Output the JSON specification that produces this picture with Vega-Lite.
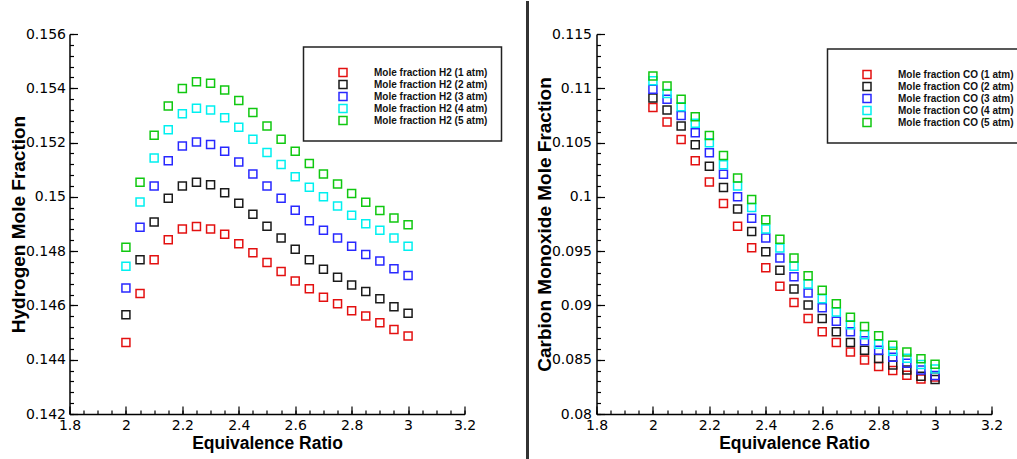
{
  "$schema": "https://vega.github.io/schema/vega-lite/v6.json",
  "autosize": "pad",
  "padding": {"left": 8.5, "top": 0, "right": 0, "bottom": 0},
  "background": "white",
  "bounds": "flush",
  "spacing": 132,
  "resolve": {"scale": {"x": "independent", "y": "independent", "color": "independent"}, "legend": {"color": "independent"}},
  "config": {
    "view": {"stroke": null},
    "axis": {"grid": false, "domainColor": "#000", "tickColor": "#000", "labelColor": "#000", "titleColor": "#000", "labelFont": "DejaVu Sans", "titleFont": "Liberation Sans"},
    "legend": {"strokeWidth": 1.5}
  },
  "datasets": {
    "h2": [
      {"x":2,"a":"1 atm","y":0.14463},{"x":2.05,"a":"1 atm","y":0.14644},{"x":2.1,"a":"1 atm","y":0.14768},{"x":2.15,"a":"1 atm","y":0.14842},{"x":2.2,"a":"1 atm","y":0.14882},{"x":2.25,"a":"1 atm","y":0.14891},{"x":2.3,"a":"1 atm","y":0.14882},{"x":2.35,"a":"1 atm","y":0.14862},{"x":2.4,"a":"1 atm","y":0.14827},{"x":2.45,"a":"1 atm","y":0.14794},{"x":2.5,"a":"1 atm","y":0.14758},{"x":2.55,"a":"1 atm","y":0.14725},{"x":2.6,"a":"1 atm","y":0.1469},{"x":2.65,"a":"1 atm","y":0.14661},{"x":2.7,"a":"1 atm","y":0.1463},{"x":2.75,"a":"1 atm","y":0.14606},{"x":2.8,"a":"1 atm","y":0.1458},{"x":2.85,"a":"1 atm","y":0.14561},{"x":2.9,"a":"1 atm","y":0.14536},{"x":2.95,"a":"1 atm","y":0.14511},{"x":3,"a":"1 atm","y":0.14487},
      {"x":2,"a":"2 atm","y":0.14566},{"x":2.05,"a":"2 atm","y":0.14768},{"x":2.1,"a":"2 atm","y":0.14907},{"x":2.15,"a":"2 atm","y":0.14995},{"x":2.2,"a":"2 atm","y":0.1504},{"x":2.25,"a":"2 atm","y":0.15054},{"x":2.3,"a":"2 atm","y":0.15045},{"x":2.35,"a":"2 atm","y":0.15015},{"x":2.4,"a":"2 atm","y":0.14976},{"x":2.45,"a":"2 atm","y":0.14936},{"x":2.5,"a":"2 atm","y":0.14892},{"x":2.55,"a":"2 atm","y":0.14848},{"x":2.6,"a":"2 atm","y":0.14807},{"x":2.65,"a":"2 atm","y":0.14768},{"x":2.7,"a":"2 atm","y":0.14733},{"x":2.75,"a":"2 atm","y":0.14704},{"x":2.8,"a":"2 atm","y":0.14675},{"x":2.85,"a":"2 atm","y":0.14651},{"x":2.9,"a":"2 atm","y":0.14625},{"x":2.95,"a":"2 atm","y":0.14595},{"x":3,"a":"2 atm","y":0.14571},
      {"x":2,"a":"3 atm","y":0.14664},{"x":2.05,"a":"3 atm","y":0.14888},{"x":2.1,"a":"3 atm","y":0.1504},{"x":2.15,"a":"3 atm","y":0.15133},{"x":2.2,"a":"3 atm","y":0.15187},{"x":2.25,"a":"3 atm","y":0.15202},{"x":2.3,"a":"3 atm","y":0.15193},{"x":2.35,"a":"3 atm","y":0.15168},{"x":2.4,"a":"3 atm","y":0.15128},{"x":2.45,"a":"3 atm","y":0.15084},{"x":2.5,"a":"3 atm","y":0.1504},{"x":2.55,"a":"3 atm","y":0.14995},{"x":2.6,"a":"3 atm","y":0.14951},{"x":2.65,"a":"3 atm","y":0.14912},{"x":2.7,"a":"3 atm","y":0.14877},{"x":2.75,"a":"3 atm","y":0.14848},{"x":2.8,"a":"3 atm","y":0.14818},{"x":2.85,"a":"3 atm","y":0.14788},{"x":2.9,"a":"3 atm","y":0.14764},{"x":2.95,"a":"3 atm","y":0.14735},{"x":3,"a":"3 atm","y":0.1471},
      {"x":2,"a":"4 atm","y":0.14744},{"x":2.05,"a":"4 atm","y":0.14981},{"x":2.1,"a":"4 atm","y":0.15143},{"x":2.15,"a":"4 atm","y":0.15247},{"x":2.2,"a":"4 atm","y":0.15306},{"x":2.25,"a":"4 atm","y":0.15326},{"x":2.3,"a":"4 atm","y":0.1532},{"x":2.35,"a":"4 atm","y":0.15291},{"x":2.4,"a":"4 atm","y":0.15256},{"x":2.45,"a":"4 atm","y":0.15212},{"x":2.5,"a":"4 atm","y":0.15163},{"x":2.55,"a":"4 atm","y":0.15119},{"x":2.6,"a":"4 atm","y":0.15074},{"x":2.65,"a":"4 atm","y":0.15035},{"x":2.7,"a":"4 atm","y":0.15},{"x":2.75,"a":"4 atm","y":0.14966},{"x":2.8,"a":"4 atm","y":0.14932},{"x":2.85,"a":"4 atm","y":0.14901},{"x":2.9,"a":"4 atm","y":0.14877},{"x":2.95,"a":"4 atm","y":0.14848},{"x":3,"a":"4 atm","y":0.14818},
      {"x":2,"a":"5 atm","y":0.14814},{"x":2.05,"a":"5 atm","y":0.15054},{"x":2.1,"a":"5 atm","y":0.15227},{"x":2.15,"a":"5 atm","y":0.15335},{"x":2.2,"a":"5 atm","y":0.15399},{"x":2.25,"a":"5 atm","y":0.15424},{"x":2.3,"a":"5 atm","y":0.15419},{"x":2.35,"a":"5 atm","y":0.15394},{"x":2.4,"a":"5 atm","y":0.15355},{"x":2.45,"a":"5 atm","y":0.15311},{"x":2.5,"a":"5 atm","y":0.15261},{"x":2.55,"a":"5 atm","y":0.15212},{"x":2.6,"a":"5 atm","y":0.15168},{"x":2.65,"a":"5 atm","y":0.15123},{"x":2.7,"a":"5 atm","y":0.15084},{"x":2.75,"a":"5 atm","y":0.15047},{"x":2.8,"a":"5 atm","y":0.15012},{"x":2.85,"a":"5 atm","y":0.1498},{"x":2.9,"a":"5 atm","y":0.1495},{"x":2.95,"a":"5 atm","y":0.14922},{"x":3,"a":"5 atm","y":0.14897}
    ],
    "co": [
      {"x":2,"a":"1 atm","y":0.10824},{"x":2.05,"a":"1 atm","y":0.10689},{"x":2.1,"a":"1 atm","y":0.10529},{"x":2.15,"a":"1 atm","y":0.10332},{"x":2.2,"a":"1 atm","y":0.10136},{"x":2.25,"a":"1 atm","y":0.09938},{"x":2.3,"a":"1 atm","y":0.0973},{"x":2.35,"a":"1 atm","y":0.09532},{"x":2.4,"a":"1 atm","y":0.09347},{"x":2.45,"a":"1 atm","y":0.09176},{"x":2.5,"a":"1 atm","y":0.09028},{"x":2.55,"a":"1 atm","y":0.0888},{"x":2.6,"a":"1 atm","y":0.08757},{"x":2.65,"a":"1 atm","y":0.08659},{"x":2.7,"a":"1 atm","y":0.08572},{"x":2.75,"a":"1 atm","y":0.08498},{"x":2.8,"a":"1 atm","y":0.08437},{"x":2.85,"a":"1 atm","y":0.084},{"x":2.9,"a":"1 atm","y":0.08357},{"x":2.95,"a":"1 atm","y":0.08323},{"x":3,"a":"1 atm","y":0.08341},
      {"x":2,"a":"2 atm","y":0.10911},{"x":2.05,"a":"2 atm","y":0.108},{"x":2.1,"a":"2 atm","y":0.10653},{"x":2.15,"a":"2 atm","y":0.1048},{"x":2.2,"a":"2 atm","y":0.10283},{"x":2.25,"a":"2 atm","y":0.10086},{"x":2.3,"a":"2 atm","y":0.09889},{"x":2.35,"a":"2 atm","y":0.0968},{"x":2.4,"a":"2 atm","y":0.09495},{"x":2.45,"a":"2 atm","y":0.09323},{"x":2.5,"a":"2 atm","y":0.09151},{"x":2.55,"a":"2 atm","y":0.09003},{"x":2.6,"a":"2 atm","y":0.0888},{"x":2.65,"a":"2 atm","y":0.08757},{"x":2.7,"a":"2 atm","y":0.08659},{"x":2.75,"a":"2 atm","y":0.08588},{"x":2.8,"a":"2 atm","y":0.08511},{"x":2.85,"a":"2 atm","y":0.08452},{"x":2.9,"a":"2 atm","y":0.08406},{"x":2.95,"a":"2 atm","y":0.08348},{"x":3,"a":"2 atm","y":0.08317},
      {"x":2,"a":"3 atm","y":0.1099},{"x":2.05,"a":"3 atm","y":0.10898},{"x":2.1,"a":"3 atm","y":0.1075},{"x":2.15,"a":"3 atm","y":0.10591},{"x":2.2,"a":"3 atm","y":0.10406},{"x":2.25,"a":"3 atm","y":0.10209},{"x":2.3,"a":"3 atm","y":0.1},{"x":2.35,"a":"3 atm","y":0.09803},{"x":2.4,"a":"3 atm","y":0.09622},{"x":2.45,"a":"3 atm","y":0.09437},{"x":2.5,"a":"3 atm","y":0.09265},{"x":2.55,"a":"3 atm","y":0.09114},{"x":2.6,"a":"3 atm","y":0.08978},{"x":2.65,"a":"3 atm","y":0.08855},{"x":2.7,"a":"3 atm","y":0.08757},{"x":2.75,"a":"3 atm","y":0.08674},{"x":2.8,"a":"3 atm","y":0.08588},{"x":2.85,"a":"3 atm","y":0.08523},{"x":2.9,"a":"3 atm","y":0.08468},{"x":2.95,"a":"3 atm","y":0.08406},{"x":3,"a":"3 atm","y":0.08355},
      {"x":2,"a":"4 atm","y":0.1107},{"x":2.05,"a":"4 atm","y":0.10953},{"x":2.1,"a":"4 atm","y":0.10831},{"x":2.15,"a":"4 atm","y":0.10677},{"x":2.2,"a":"4 atm","y":0.10498},{"x":2.25,"a":"4 atm","y":0.10295},{"x":2.3,"a":"4 atm","y":0.10099},{"x":2.35,"a":"4 atm","y":0.09901},{"x":2.4,"a":"4 atm","y":0.09705},{"x":2.45,"a":"4 atm","y":0.09529},{"x":2.5,"a":"4 atm","y":0.0936},{"x":2.55,"a":"4 atm","y":0.09197},{"x":2.6,"a":"4 atm","y":0.09061},{"x":2.65,"a":"4 atm","y":0.08939},{"x":2.7,"a":"4 atm","y":0.08821},{"x":2.75,"a":"4 atm","y":0.08729},{"x":2.8,"a":"4 atm","y":0.08643},{"x":2.85,"a":"4 atm","y":0.08579},{"x":2.9,"a":"4 atm","y":0.08514},{"x":2.95,"a":"4 atm","y":0.08456},{"x":3,"a":"4 atm","y":0.08415},
      {"x":2,"a":"5 atm","y":0.11114},{"x":2.05,"a":"5 atm","y":0.11022},{"x":2.1,"a":"5 atm","y":0.10898},{"x":2.15,"a":"5 atm","y":0.10738},{"x":2.2,"a":"5 atm","y":0.10566},{"x":2.25,"a":"5 atm","y":0.10381},{"x":2.3,"a":"5 atm","y":0.10173},{"x":2.35,"a":"5 atm","y":0.09975},{"x":2.4,"a":"5 atm","y":0.0979},{"x":2.45,"a":"5 atm","y":0.0961},{"x":2.5,"a":"5 atm","y":0.09437},{"x":2.55,"a":"5 atm","y":0.09274},{"x":2.6,"a":"5 atm","y":0.09139},{"x":2.65,"a":"5 atm","y":0.09015},{"x":2.7,"a":"5 atm","y":0.08892},{"x":2.75,"a":"5 atm","y":0.08807},{"x":2.8,"a":"5 atm","y":0.0872},{"x":2.85,"a":"5 atm","y":0.08634},{"x":2.9,"a":"5 atm","y":0.08572},{"x":2.95,"a":"5 atm","y":0.08508},{"x":3,"a":"5 atm","y":0.08459}
    ]
  },
  "hconcat": [
    {
      "width": 395,
      "height": 380,
      "data": {"name": "h2"},
      "resolve": {"axis": {"x": "independent", "y": "independent"}},
      "layer": [
        {
          "mark": {"type": "point", "shape": "square", "filled": false, "size": 64, "strokeWidth": 1.5, "opacity": 1},
          "encoding": {
            "x": {"field": "x", "type": "quantitative", "scale": {"domain": [1.8, 3.2], "nice": false, "zero": false},
              "axis": {"orient": "bottom", "values": [1.8, 2, 2.2, 2.4, 2.6, 2.8, 3, 3.2], "format": "~g", "ticks": false, "domainWidth": 1.5, "labelFontSize": 14, "labelPadding": 4, "labelFlush": false, "labelOverlap": false, "title": "Equivalence Ratio", "titleFontSize": 17.5, "titleFontWeight": "bold", "titlePadding": 2}},
            "y": {"field": "y", "type": "quantitative", "scale": {"domain": [0.142, 0.156], "nice": false, "zero": false},
              "axis": {"orient": "left", "values": [0.142, 0.144, 0.146, 0.148, 0.15, 0.152, 0.154, 0.156], "format": "~g", "ticks": false, "domainWidth": 1.5, "labelFontSize": 14, "labelPadding": 4, "labelFlush": false, "labelOverlap": false, "title": "Hydrogen Mole Fraction", "titleFontSize": 19, "titleFontWeight": "bold", "titlePadding": -3}},
            "color": {"field": "a", "type": "nominal",
              "scale": {"domain": ["1 atm", "2 atm", "3 atm", "4 atm", "5 atm"], "range": ["#e31010", "#1a1a1a", "#2828ff", "#00f0f0", "#10c810"]},
              "legend": {"orient": "none", "legendX": 234, "legendY": 13, "title": " ", "titleFontSize": 7, "titlePadding": 0, "symbolType": "square", "symbolSize": 64, "symbolStrokeWidth": 1.5, "labelFont": "Liberation Sans", "labelFontSize": 10, "labelFontWeight": "bold", "labelColor": "#111", "labelOffset": 26, "rowPadding": -2, "padding": 13.5, "symbolOffset": 21, "strokeColor": "#222", "fillColor": "white", "labelExpr": "'Mole fraction H2 (' + datum.label + ')'"}}
          }
        },
        {
          "mark": {"type": "point", "opacity": 0},
          "encoding": {
            "x": {"field": "x", "type": "quantitative", "axis": {"orient": "top", "offset": -380, "values": [1.8, 2, 2.2, 2.4, 2.6, 2.8, 3, 3.2], "labels": false, "domain": false, "tickSize": 8, "tickWidth": 1.2, "title": null}},
            "y": {"field": "y", "type": "quantitative", "axis": {"orient": "right", "offset": -395, "values": [0.142, 0.144, 0.146, 0.148, 0.15, 0.152, 0.154, 0.156], "labels": false, "domain": false, "tickSize": 8, "tickWidth": 1.2, "title": null}}
          }
        },
        {
          "mark": {"type": "point", "opacity": 0},
          "encoding": {
            "x": {"field": "x", "type": "quantitative", "axis": {"orient": "top", "offset": -380, "values": [1.8,1.85,1.9,1.95,2,2.05,2.1,2.15,2.2,2.25,2.3,2.35,2.4,2.45,2.5,2.55,2.6,2.65,2.7,2.75,2.8,2.85,2.9,2.95,3,3.05,3.1,3.15,3.2], "labels": false, "domain": false, "tickSize": 4, "tickWidth": 1.2, "title": null}},
            "y": {"field": "y", "type": "quantitative", "axis": {"orient": "right", "offset": -395, "values": [0.142,0.1424,0.1428,0.1432,0.1436,0.144,0.1444,0.1448,0.1452,0.1456,0.146,0.1464,0.1468,0.1472,0.1476,0.148,0.1484,0.1488,0.1492,0.1496,0.15,0.1504,0.1508,0.1512,0.1516,0.152,0.1524,0.1528,0.1532,0.1536,0.154,0.1544,0.1548,0.1552,0.1556,0.156], "labels": false, "domain": false, "tickSize": 4, "tickWidth": 1.2, "title": null}}
          }
        },
        {
          "mark": {"type": "rule", "strokeWidth": 2.5, "color": "#333"},
          "encoding": {
            "x": {"datum": 3.4233, "type": "quantitative", "axis": null},
            "y": {"datum": 0.1572, "type": "quantitative", "axis": null},
            "y2": {"datum": 0.14034}
          }
        }
      ]
    },
    {
      "width": 395,
      "height": 380,
      "data": {"name": "co"},
      "resolve": {"axis": {"x": "independent", "y": "independent"}},
      "layer": [
        {
          "mark": {"type": "point", "shape": "square", "filled": false, "size": 64, "strokeWidth": 1.5, "opacity": 1},
          "encoding": {
            "x": {"field": "x", "type": "quantitative", "scale": {"domain": [1.8, 3.2], "nice": false, "zero": false},
              "axis": {"orient": "bottom", "values": [1.8, 2, 2.2, 2.4, 2.6, 2.8, 3, 3.2], "format": "~g", "ticks": false, "domainWidth": 1.5, "labelFontSize": 14, "labelPadding": 4, "labelFlush": false, "labelOverlap": false, "title": "Equivalence Ratio", "titleFontSize": 17.5, "titleFontWeight": "bold", "titlePadding": 2}},
            "y": {"field": "y", "type": "quantitative", "scale": {"domain": [0.08, 0.115], "nice": false, "zero": false},
              "axis": {"orient": "left", "values": [0.08, 0.085, 0.09, 0.095, 0.1, 0.105, 0.11, 0.115], "format": "~g", "ticks": false, "domainWidth": 1.5, "labelFontSize": 14, "labelPadding": 5, "labelFlush": false, "labelOverlap": false, "title": "Carbion Monoxide Mole Fraction", "titleFontSize": 19, "titleFontWeight": "bold", "titlePadding": -3}},
            "color": {"field": "a", "type": "nominal",
              "scale": {"domain": ["1 atm", "2 atm", "3 atm", "4 atm", "5 atm"], "range": ["#e31010", "#1a1a1a", "#2828ff", "#00f0f0", "#10c810"]},
              "legend": {"orient": "none", "legendX": 231, "legendY": 15, "title": " ", "titleFontSize": 7, "titlePadding": 0, "symbolType": "square", "symbolSize": 64, "symbolStrokeWidth": 1.5, "labelFont": "Liberation Sans", "labelFontSize": 10, "labelFontWeight": "bold", "labelColor": "#111", "labelOffset": 26, "rowPadding": -2, "padding": 13.5, "symbolOffset": 21, "strokeColor": "#222", "fillColor": "white", "labelExpr": "'Mole fraction CO (' + datum.label + ')'"}}
          }
        },
        {
          "mark": {"type": "point", "opacity": 0},
          "encoding": {
            "x": {"field": "x", "type": "quantitative", "axis": {"orient": "top", "offset": -380, "values": [1.8, 2, 2.2, 2.4, 2.6, 2.8, 3, 3.2], "labels": false, "domain": false, "tickSize": 8, "tickWidth": 1.2, "title": null}},
            "y": {"field": "y", "type": "quantitative", "axis": {"orient": "right", "offset": -395, "values": [0.08, 0.085, 0.09, 0.095, 0.1, 0.105, 0.11, 0.115], "labels": false, "domain": false, "tickSize": 8, "tickWidth": 1.2, "title": null}}
          }
        },
        {
          "mark": {"type": "point", "opacity": 0},
          "encoding": {
            "x": {"field": "x", "type": "quantitative", "axis": {"orient": "top", "offset": -380, "values": [1.8,1.85,1.9,1.95,2,2.05,2.1,2.15,2.2,2.25,2.3,2.35,2.4,2.45,2.5,2.55,2.6,2.65,2.7,2.75,2.8,2.85,2.9,2.95,3,3.05,3.1,3.15,3.2], "labels": false, "domain": false, "tickSize": 4, "tickWidth": 1.2, "title": null}},
            "y": {"field": "y", "type": "quantitative", "axis": {"orient": "right", "offset": -395, "values": [0.08,0.081,0.082,0.083,0.084,0.085,0.086,0.087,0.088,0.089,0.09,0.091,0.092,0.093,0.094,0.095,0.096,0.097,0.098,0.099,0.1,0.101,0.102,0.103,0.104,0.105,0.106,0.107,0.108,0.109,0.11,0.111,0.112,0.113,0.114,0.115], "labels": false, "domain": false, "tickSize": 4, "tickWidth": 1.2, "title": null}}
          }
        }
      ]
    }
  ]
}
